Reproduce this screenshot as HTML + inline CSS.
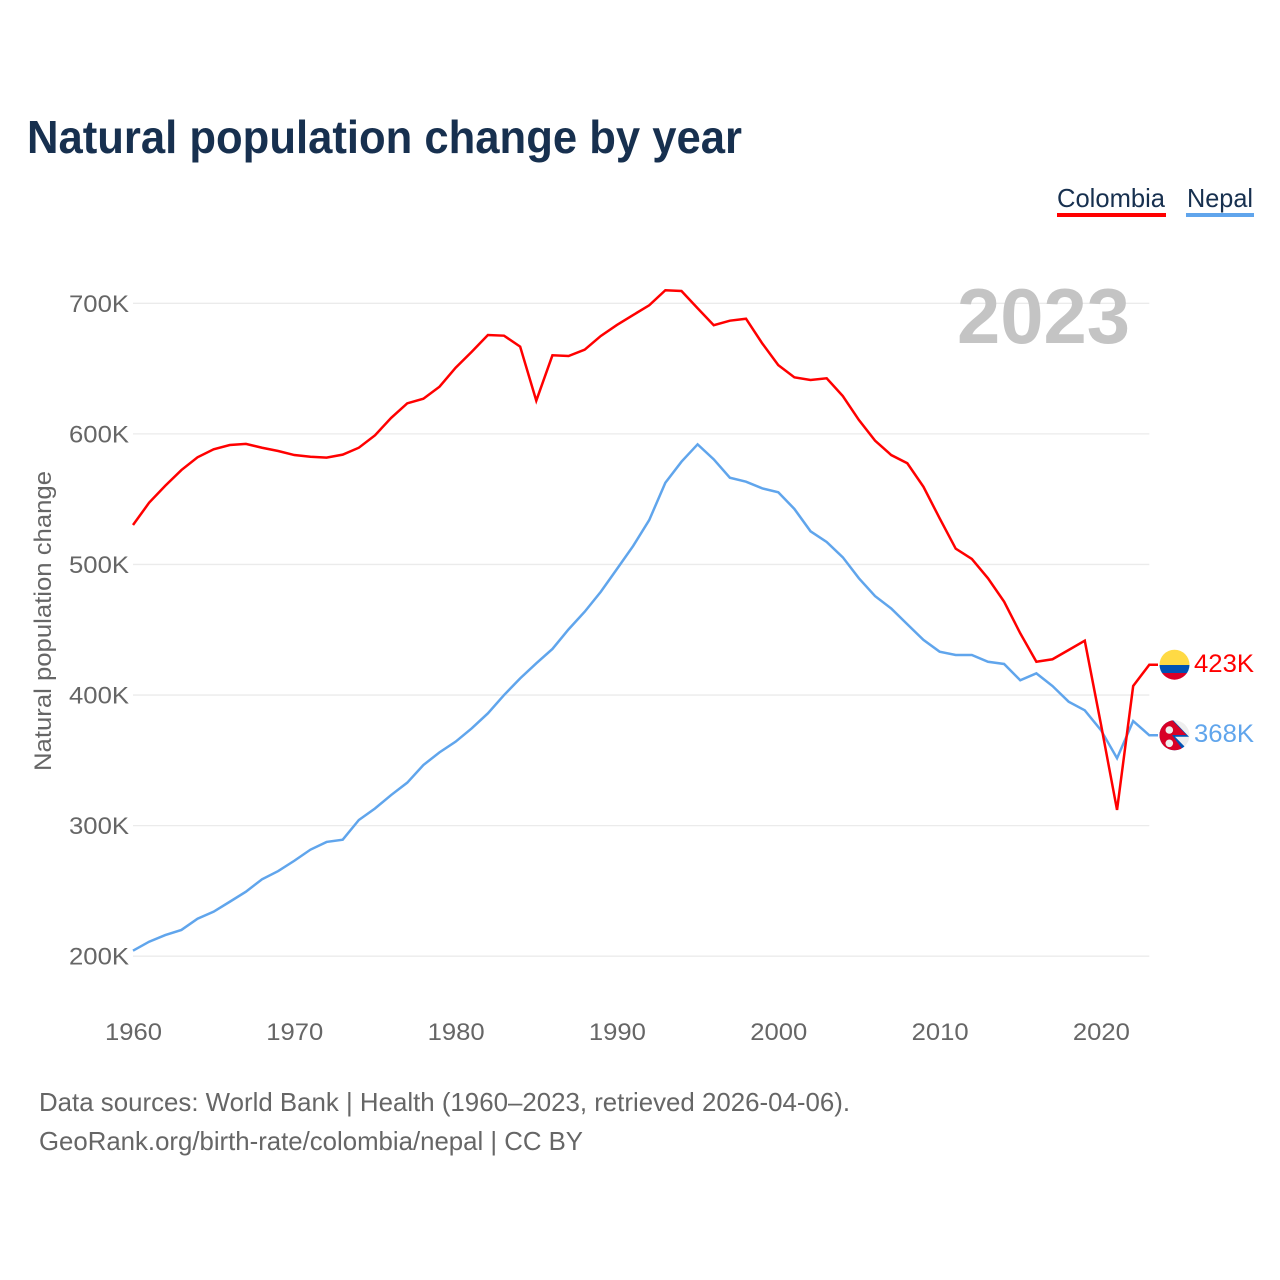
<!DOCTYPE html>
<html lang="en">
<head>
<meta charset="utf-8">
<title>Natural population change by year</title>
<style>
html,body{margin:0;padding:0;background:#fff;}
svg{display:block;font-family:"Liberation Sans",sans-serif;}
</style>
</head>
<body>
<svg id="chart" xmlns="http://www.w3.org/2000/svg" width="1280" height="1280" viewBox="0 0 1280 1280">
  <rect width="1280" height="1280" fill="#fff"/>
  <text x="27" y="153" font-size="46" font-weight="700" fill="#17304f" textLength="715" lengthAdjust="spacingAndGlyphs">Natural population change by year</text>

  <g>
    <text x="1057" y="207" font-size="26" fill="#17304f" textLength="108" lengthAdjust="spacingAndGlyphs">Colombia</text>
    <rect x="1057" y="213" width="109" height="4" fill="#ff0000"/>
  </g>
  <g>
    <text x="1187" y="207" font-size="26" fill="#17304f" textLength="66" lengthAdjust="spacingAndGlyphs">Nepal</text>
    <rect x="1186" y="213" width="68" height="4" fill="#60a5ec"/>
  </g>

  <g id="grid"></g>
  <g id="yticks"></g>
  <g id="xticks"></g>

  <text x="957" y="343" font-size="78" font-weight="700" fill="#c4c4c4" textLength="173" lengthAdjust="spacingAndGlyphs">2023</text>

  <text transform="translate(51,771) rotate(-90)" x="0" y="0" font-size="24" fill="#666666" textLength="300" lengthAdjust="spacingAndGlyphs">Natural population change</text>

  <g id="series"></g>

  <defs>
    <clipPath id="flag-clip-co"><circle cx="1174.5" cy="664.7" r="15"/></clipPath>
    <clipPath id="flag-clip-np"><circle cx="1174.5" cy="735.3" r="15"/></clipPath>
  </defs>
  <g id="flag-colombia" clip-path="url(#flag-clip-co)">
    <rect x="1159" y="649" width="31" height="16" fill="#ffda44"/>
    <rect x="1159" y="665" width="31" height="8" fill="#0052b4"/>
    <rect x="1159" y="673" width="31" height="8" fill="#d80027"/>
  </g>
  <g id="flag-nepal" clip-path="url(#flag-clip-np)">
    <rect x="1159" y="720" width="31" height="31" fill="#eeeeee"/>
    <polygon points="1159,719 1172,719 1189,736.7 1175,736.7 1186,748 1186,752 1159,752" fill="#0052b4"/>
    <polygon points="1159,719 1171,719 1186.5,735 1172,735 1183,750 1183,752 1159,752" fill="#d80027"/>
    <circle cx="1169.3" cy="730" r="3.8" fill="#eeeeee"/>
    <circle cx="1169.3" cy="743.3" r="3.8" fill="#eeeeee"/>
  </g>

  <text id="label-colombia" x="1194" y="672" font-size="25" fill="#ff0000" textLength="60" lengthAdjust="spacingAndGlyphs">423K</text>
  <text id="label-nepal" x="1194" y="742" font-size="25" fill="#60a5ec" textLength="60" lengthAdjust="spacingAndGlyphs">368K</text>

  <text x="39" y="1111" font-size="26" fill="#666666" textLength="811" lengthAdjust="spacingAndGlyphs">Data sources: World Bank | Health (1960–2023, retrieved 2026-04-06).</text>
  <text x="39" y="1150" font-size="26" fill="#666666" textLength="544" lengthAdjust="spacingAndGlyphs">GeoRank.org/birth-rate/colombia/nepal | CC BY</text>
</svg>
<script>
const startYear = 1960;
const endYear = 2023;
const yTickValues = [200, 300, 400, 500, 600, 700];
const yTickLabels = ["200K", "300K", "400K", "500K", "600K", "700K"];
const xTickValues = [1960, 1970, 1980, 1990, 2000, 2010, 2020];
const xTickLabels = ["1960", "1970", "1980", "1990", "2000", "2010", "2020"];
const colombiaValues = [530.2,547.3,560.3,572.3,582.1,588.2,591.5,592.3,589.4,586.9,
  583.8,582.5,581.8,584.1,589.4,598.9,612.2,623.4,626.9,636.1,
  650.7,662.9,675.7,675.2,666.8,625.4,660.2,659.6,664.5,675,
  683.4,691,698.5,710,709.4,696.2,683.2,686.7,688.2,669.4,
  652.7,643.3,641.3,642.6,629,610.6,594.8,583.8,577.5,559.5,
  535.4,512.1,504.2,489.4,471.5,447.3,425.5,427.4,434.5,441.6,
  377.8,312,406.9,423.2];
const nepalValues = [204.2,211.1,216.2,220.1,228.7,234.1,241.7,249.4,258.9,265.2,
  273.1,281.6,287.5,289.2,304.3,313.1,323.4,332.9,346.4,356.1,
  364.3,374.5,386,400,412.8,424.3,435.3,450.3,463.8,479.1,
  496.5,514.1,534,562.6,578.7,592,580.5,566.4,563.4,558.3,
  555.3,542.5,525.4,517.2,505.5,489.4,475.8,466.3,454.2,442.2,
  433.2,430.7,430.7,425.5,423.8,411.3,416.6,406.9,394.9,388.3,
  373.2,351.6,380.1,369.2];

const SVGNS = "http://www.w3.org/2000/svg";
const plotLeft = 133, plotRight = 1149.3, plotBottom = 956.2, plotTop = 303.3;
function xScale(year) {
  return plotLeft + (year - startYear) / (endYear - startYear) * (plotRight - plotLeft);
}
function yScale(value) {
  return plotBottom - (value - 200) / 500 * (plotBottom - plotTop);
}

const gridGroup = document.getElementById("grid");
const yTickGroup = document.getElementById("yticks");
const xTickGroup = document.getElementById("xticks");
const seriesGroup = document.getElementById("series");

yTickValues.forEach(function (v, i) {
  const line = document.createElementNS(SVGNS, "line");
  line.setAttribute("x1", plotLeft);
  line.setAttribute("x2", plotRight);
  line.setAttribute("y1", yScale(v));
  line.setAttribute("y2", yScale(v));
  line.setAttribute("stroke", "#ebebeb");
  line.setAttribute("stroke-width", "1.3");
  
  
  gridGroup.appendChild(line);

  const t = document.createElementNS(SVGNS, "text");
  t.setAttribute("x", 69);
  t.setAttribute("y", yScale(v) + 8.5);
  t.setAttribute("font-size", "24");
  t.setAttribute("fill", "#666666");
  t.setAttribute("textLength", "60");
  t.setAttribute("lengthAdjust", "spacingAndGlyphs");
  
  
  t.textContent = yTickLabels[i];
  yTickGroup.appendChild(t);
});

xTickValues.forEach(function (v, i) {
  const t = document.createElementNS(SVGNS, "text");
  t.setAttribute("x", xScale(v) - 28);
  t.setAttribute("y", 1040);
  t.setAttribute("font-size", "24");
  t.setAttribute("fill", "#666666");
  t.setAttribute("textLength", "57");
  t.setAttribute("lengthAdjust", "spacingAndGlyphs");
  
  
  t.textContent = xTickLabels[i];
  xTickGroup.appendChild(t);
});

function linePoints(values) {
  const pts = values.map(function (v, i) {
    return xScale(startYear + i).toFixed(2) + "," + yScale(v).toFixed(2);
  });
  const last = values[values.length - 1];
  pts.push("1158," + yScale(last).toFixed(2));
  return pts.join(" ");
}

const nepalLine = document.createElementNS(SVGNS, "polyline");
nepalLine.setAttribute("points", linePoints(nepalValues));
nepalLine.setAttribute("fill", "none");
nepalLine.setAttribute("stroke", "#60a5ec");
nepalLine.setAttribute("stroke-width", "2.5");
nepalLine.setAttribute("stroke-linejoin", "miter");


seriesGroup.appendChild(nepalLine);

const colombiaLine = document.createElementNS(SVGNS, "polyline");
colombiaLine.setAttribute("points", linePoints(colombiaValues));
colombiaLine.setAttribute("fill", "none");
colombiaLine.setAttribute("stroke", "#ff0000");
colombiaLine.setAttribute("stroke-width", "2.5");
colombiaLine.setAttribute("stroke-linejoin", "miter");


seriesGroup.appendChild(colombiaLine);
</script>
</body>
</html>
